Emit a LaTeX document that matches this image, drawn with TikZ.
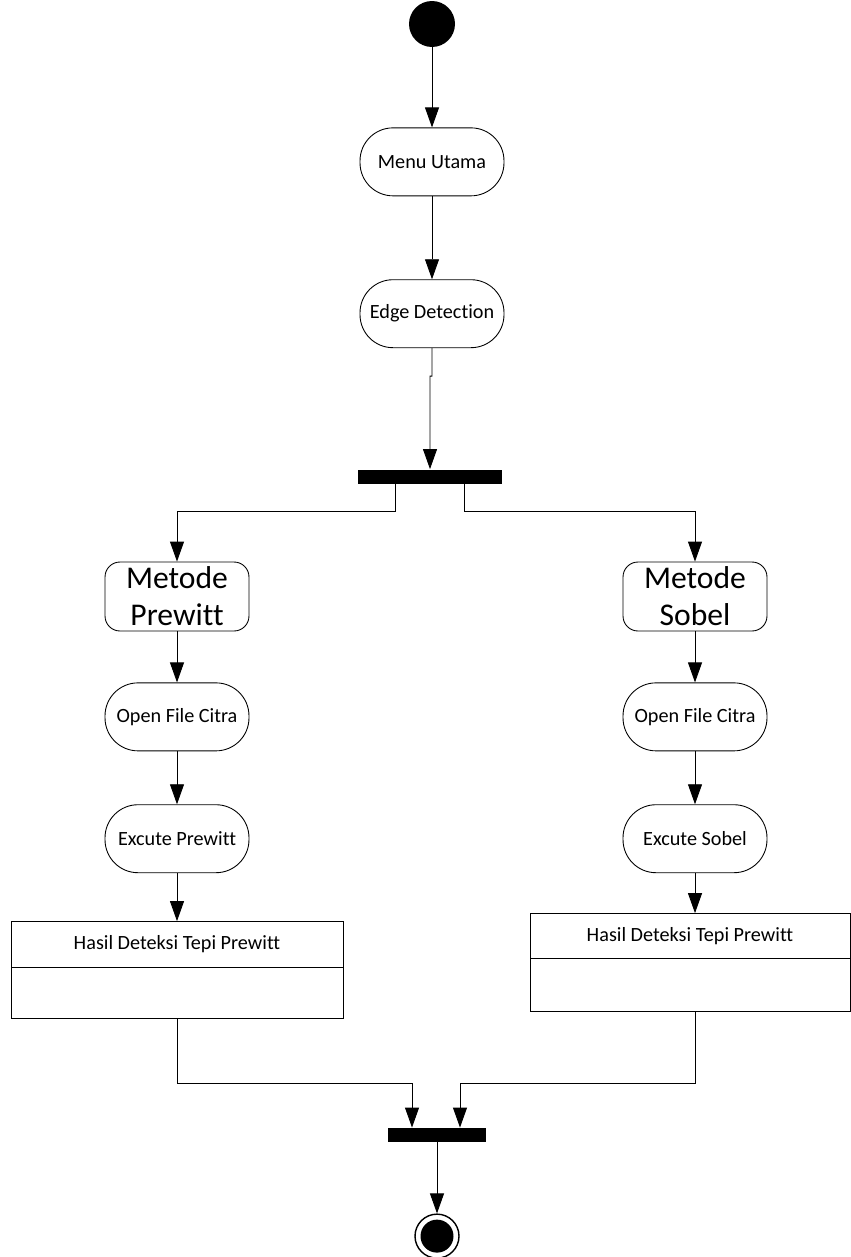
\documentclass[tikz,border=0pt]{standalone}
\usepackage{fontspec}
\setmainfont{Carlito}[Ligatures={NoCommon,NoContextual}]
\usetikzlibrary{arrows.meta,positioning}

\begin{document}
\begin{tikzpicture}[x=0.02cm,y=-0.02cm,-{Triangle[width=0.28cm,length=0.4cm]},line width=0.5pt,
    font=\fontsize{11.5}{13}\selectfont,
    start node/.style={circle,fill,inner sep=0pt,minimum size=0.92cm},
    end node/.style={circle,draw,line width=0.8pt,inner sep=0pt,minimum size=0.88cm,
      path picture={\fill (path picture bounding box.center) circle (0.33cm);}},
    activity/.style={rectangle,draw,rounded corners=0.66cm,minimum width=2.88cm,minimum height=1.36cm,inner sep=2pt},
    metode/.style={rectangle,draw,rounded corners=0.3cm,minimum width=2.88cm,minimum height=1.38cm,
      inner sep=1pt,align=center,font=\fontsize{18}{21}\selectfont},
    bar/.style={rectangle,fill,inner sep=0pt,minimum height=0.28cm},
    hasil head/.style={rectangle,draw,outer sep=0pt,minimum height=0.92cm},
    hasil body/.style={rectangle,draw,outer sep=0pt,minimum height=1.02cm}]

  \useasboundingbox (0,0) rectangle (850,1257);

  % main flow
  \node[start node] (start) at (432,24) {};
  \node[activity] (menu) [below=1.6cm of start] {Menu Utama};
  \node[activity] (edge) [below=1.66cm of menu] {Edge Detection};
  \node[bar,minimum width=2.88cm] (fork) [below=2.42cm of edge,xshift=-0.04cm] {};

  % prewitt branch
  \node[metode] (prewitt) at (177,596.5) {Metode\\Prewitt};
  \node[activity] (openA) [below=1.02cm of prewitt] {Open File Citra};
  \node[activity] (excA) [below=1.06cm of openA] {Excute Prewitt};
  \node[hasil head,minimum width=6.64cm] (hasilA) [below=0.96cm of excA] {Hasil Deteksi Tepi Prewitt};
  \node[hasil body,minimum width=6.64cm] (hasilAbody) [below=0pt of hasilA] {};

  % sobel branch
  \node[metode] (sobel) at (695,596.5) {Metode\\Sobel};
  \node[activity] (openB) [below=1.02cm of sobel] {Open File Citra};
  \node[activity] (excB) [below=1.06cm of openB] {Excute Sobel};
  \node[hasil head,minimum width=6.4cm,minimum height=0.9cm] (hasilB) [below=0.8cm of excB,xshift=-0.1cm] {Hasil Deteksi Tepi Prewitt};
  \node[hasil body,minimum width=6.4cm,minimum height=1.06cm] (hasilBbody) [below=0pt of hasilB] {};

  \node[bar,minimum width=1.96cm] (join) at (437,1135) {};
  \node[end node] (end) [below=1.42cm of join] {};

  \draw (start) -- (menu);
  \draw (menu) -- (edge);
  \draw (edge.south) -- ++(0,28) -- ++(-2,0) -- (fork.north);
  \draw ([xshift=-0.7cm]fork.south) -- ++(0,-0.54cm) -| (prewitt.north);
  \draw ([xshift=0.68cm]fork.south) -- ++(0,-0.54cm) -| (sobel.north);
  \draw (prewitt) -- (openA);
  \draw (openA) -- (excA);
  \draw (excA) -- (hasilA);
  \draw (sobel) -- (openB);
  \draw (openB) -- (excB);
  \draw (excB.south) -- (excB.south |- hasilB.north);
  \draw (hasilAbody.south) -- ++(0,-1.3cm) -| ([xshift=-0.5cm]join.north);
  \draw (excB.south |- hasilBbody.south) -- ++(0,-1.44cm) -| ([xshift=0.46cm]join.north);
  \draw (join) -- (end);

\end{tikzpicture}
\end{document}
